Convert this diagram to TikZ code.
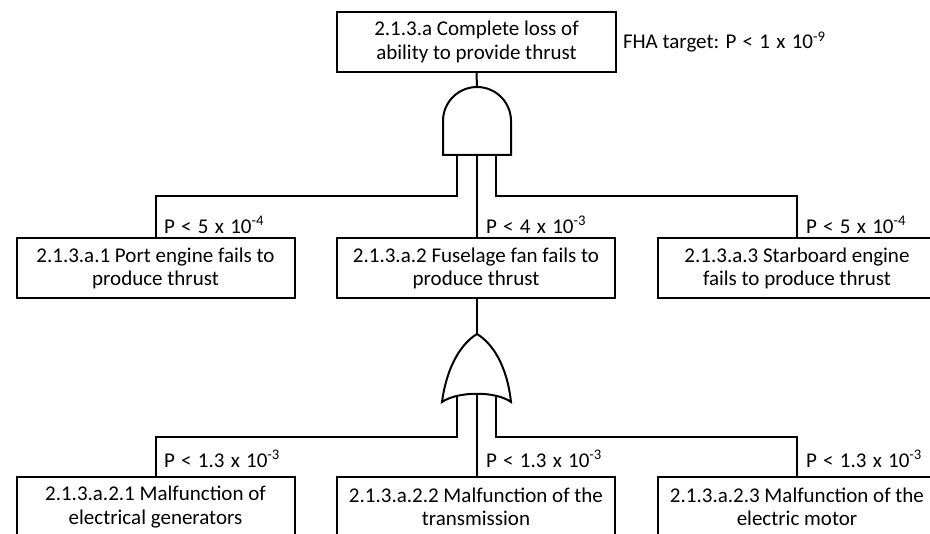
\documentclass[tikz,border=0pt]{standalone}
\usepackage{fontspec}
\setmainfont{Carlito}
\newcommand{\psp}{\hspace{0.3em}}
\begin{document}
\begin{tikzpicture}[x=1pt,y=-1pt,line width=2pt,
  evbox/.style={draw,line width=2pt,minimum width=278pt,minimum height=60pt,align=center,inner sep=0pt,font=\fontsize{21}{23.5}\selectfont},
  plabel/.style={anchor=west,inner sep=0pt,font=\fontsize{21}{23.5}\selectfont},
  conn/.style={draw,line width=2pt}]
\useasboundingbox (0,0) rectangle (930,534);
% top event
\node[evbox,minimum width=279pt] (top) at (476.5,42) {2.1.3.a Complete loss of\\ability to provide thrust};
\node[plabel] (fha) at (622,42) {FHA target: P\psp<\psp1\psp x\psp10\textsuperscript{-9}};
% AND gate
\coordinate (andT) at (477,87);
\coordinate (andL) at (457,155);
\coordinate (andM) at (477,155);
\coordinate (andR) at (496,155);
\draw[line width=2pt] (443,155) -- (443,121) arc[start angle=180,end angle=360,radius=34] -- (511,155) -- cycle;
\draw[conn] (top.south) -- (andT);
% level 2 events
\node[evbox] (e1) at (155.5,268.5) {2.1.3.a.1 Port engine fails to\\produce thrust};
\node[evbox] (e2) at (476,268.5) {2.1.3.a.2 Fuselage fan fails to\\produce thrust};
\node[evbox] (e3) at (797,268.5) {2.1.3.a.3 Starboard engine\\fails to produce thrust};
\draw[conn] (andL) -- (457,196) -| (e1.north);
\draw[conn] (andM) -- (e2.north -| andM);
\draw[conn] (andR) -- (496,196) -| (e3.north);
\node[plabel] (p1) at (163,225) {P\psp<\psp5\psp x\psp10\textsuperscript{-4}};
\node[plabel] (p2) at (485,225) {P\psp<\psp4\psp x\psp10\textsuperscript{-3}};
\node[plabel] (p3) at (805,225) {P\psp<\psp5\psp x\psp10\textsuperscript{-4}};
% OR gate
\coordinate (orT) at (477,334);
\coordinate (orL) at (457,397);
\coordinate (orM) at (477,395);
\coordinate (orR) at (496,397);
\draw[line width=2pt,line join=miter] (442,402) .. controls (447,365) and (462,343) .. (orT)
  .. controls (492,343) and (507,365) .. (511,402)
  .. controls (496,391) and (458,391) .. cycle;
\draw[conn] (e2.south -| orT) -- (orT);
% level 3 events
\node[evbox] (f1) at (155.5,507) {2.1.3.a.2.1 Malfunction of\\electrical generators};
\node[evbox] (f2) at (476,507) {2.1.3.a.2.2 Malfunction of the\\transmission};
\node[evbox] (f3) at (797,507) {2.1.3.a.2.3 Malfunction of the\\electric motor};
\draw[conn] (orL) -- (457,437) -| (f1.north);
\draw[conn] (orM) -- (f2.north -| orM);
\draw[conn] (orR) -- (496,437) -| (f3.north);
\node[plabel] (q1) at (163,459) {P\psp<\psp1.3\psp x\psp10\textsuperscript{-3}};
\node[plabel] (q2) at (485,459) {P\psp<\psp1.3\psp x\psp10\textsuperscript{-3}};
\node[plabel] (q3) at (805,459) {P\psp<\psp1.3\psp x\psp10\textsuperscript{-3}};
\end{tikzpicture}
\end{document}
